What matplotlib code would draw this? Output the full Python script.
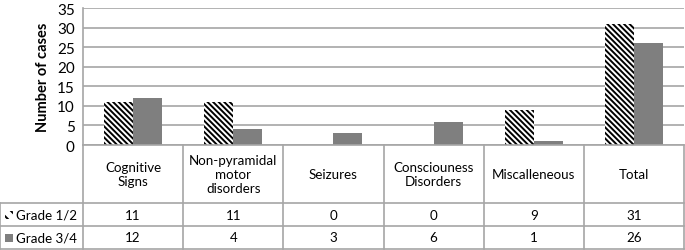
import matplotlib
matplotlib.use("Agg")
import matplotlib.pyplot as plt
from matplotlib.patches import Rectangle
import numpy as np

categories = ["Cognitive\nSigns", "Non-pyramidal\nmotor\ndisorders", "Seizures",
              "Consciouness\nDisorders", "Miscalleneous", "Total"]
grade_12 = [11, 11, 0, 0, 9, 31]
grade_34 = [12, 4, 3, 6, 1, 26]
series_names = ["Grade 1/2", "Grade 3/4"]

plt.rcParams['font.family'] = ['Lato', 'DejaVu Sans']
plt.rcParams['hatch.linewidth'] = 1.4
HATCH = "\\" * 6

W, H = 685, 251
fig = plt.figure(figsize=(W / 100, H / 100), dpi=100)
left, right, top, bottom = 83, 684, 9, 146
ax = fig.add_axes([left / W, 1 - bottom / H, (right - left) / W, (bottom - top) / H])

grid_c = "#a6a6a6"
gray = "#7f7f7f"
x = np.arange(len(categories))
bw = 0.29
ax.bar(x - bw / 2, grade_12, bw, color="white", edgecolor="black", linewidth=0, hatch=HATCH)
ax.bar(x + bw / 2, grade_34, bw, color=gray, linewidth=0)

ax.set_xlim(-0.5, len(categories) - 0.5)
ax.set_ylim(0, 35)
ax.set_yticks(range(0, 36, 5))
ax.yaxis.grid(True, color=grid_c, linewidth=1.2)
ax.set_axisbelow(True)
ax.set_xticks([])
ax.tick_params(axis="y", length=0, labelsize=11, pad=6)
for s in ["top", "right"]:
    ax.spines[s].set_visible(False)
for s in ["left", "bottom"]:
    ax.spines[s].set_color(grid_c)
    ax.spines[s].set_linewidth(1.2)
ax.set_ylabel("Number of cases", fontsize=10.5, fontweight="bold", labelpad=5)

# data table under the axes
ah = bottom - top
y_head = -(204 - bottom) / ah
y_r1 = -(227 - bottom) / ah
y_r2 = -(250 - bottom) / ah
x0 = -left / (right - left)
n = len(categories)
tr = ax.transAxes
kw = dict(transform=tr, clip_on=False, color=grid_c, linewidth=1.2)

for i in range(n + 1):
    ax.plot([i / n, i / n], [0, y_r2], **kw)
for yy in [y_head, y_r1, y_r2]:
    ax.plot([x0, 1], [yy, yy], **kw)
ax.plot([x0, x0], [y_head, y_r2], **kw)

fs = 9.6
for i, c in enumerate(categories):
    xc = (i + 0.5) / n
    ax.text(xc, y_head / 2, c, transform=tr, ha="center", va="center", fontsize=fs,
            linespacing=1.2)
    ax.text(xc, (y_head + y_r1) / 2, str(grade_12[i]), transform=tr,
            ha="center", va="center", fontsize=fs)
    ax.text(xc, (y_r1 + y_r2) / 2, str(grade_34[i]), transform=tr,
            ha="center", va="center", fontsize=fs)

# legend keys in row labels
kx = 5 / (right - left) + x0
kw_ = 8 / (right - left)
kh = 8 / ah
for j, (yc, name) in enumerate([((y_head + y_r1) / 2, series_names[0]),
                                ((y_r1 + y_r2) / 2, series_names[1])]):
    if j == 0:
        r = Rectangle((kx, yc - kh / 2), kw_, kh, transform=tr, clip_on=False,
                      facecolor="white", edgecolor="black", linewidth=0, hatch="\\\\\\")
    else:
        r = Rectangle((kx, yc - kh / 2), kw_, kh, transform=tr, clip_on=False,
                      facecolor=gray, linewidth=0)
    ax.add_patch(r)
    ax.text(kx + kw_ + 3 / (right - left), yc, name, transform=tr,
            ha="left", va="center", fontsize=fs)

fig.savefig("out.png", dpi=100)
